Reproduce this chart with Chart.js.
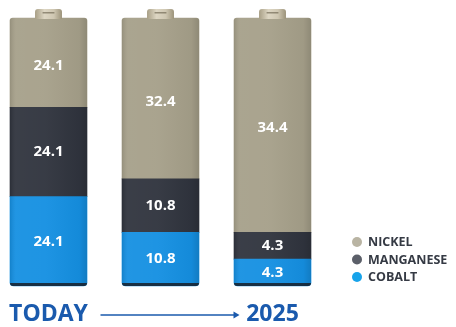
<!DOCTYPE html>
<html>
<head>
<meta charset="utf-8">
<script src="https://cdn.jsdelivr.net/npm/chart.js@4"></script>
<style>
html,body{margin:0;padding:0;background:#fff;}
#wrap{position:relative;width:456px;height:327px;}
</style>
</head>
<body>
<div id="wrap"><canvas id="c" width="456" height="327"></canvas></div>
<script>
// ---- data ----
const categories = ['TODAY', '', '2025'];
const nickel = [24.1, 32.4, 34.4];
const manganese = [24.1, 10.8, 4.3];
const cobalt = [24.1, 10.8, 4.3];
const seriesNames = ['NICKEL', 'MANGANESE', 'COBALT'];

// ---- styles ----
const barColors = {NICKEL: '#a6a08a', MANGANESE: '#30343e', COBALT: '#1590e2'};
const dotColors = {NICKEL: '#b9b4a3', MANGANESE: '#5b5f69', COBALT: '#17a3ea'};
const blue = '#1a5aad';

const totals = categories.map((_, i) => nickel[i] + manganese[i] + cobalt[i]);
const share = arr => arr.map((v, i) => v / totals[i] * 100);

const valuesByName = {NICKEL: nickel, MANGANESE: manganese, COBALT: cobalt};

function ds(name, radius) {
  return {
    label: name,
    data: share(valuesByName[name]),
    raw: valuesByName[name],
    backgroundColor: barColors[name],
    borderWidth: 0,
    borderSkipped: false,
    borderRadius: radius,
    barThickness: 77,
    clip: false
  };
}

const batteryPlugin = {
  id: 'battery',
  afterDatasetsDraw(chart) {
    const ctx = chart.ctx;
    const metas = chart.data.datasets.map((d, i) => chart.getDatasetMeta(i));
    const bottomMeta = metas[0], topMeta = metas[metas.length - 1];
    topMeta.data.forEach((bar, i) => {
      const x = bar.x, w = bar.width, top = bar.y;
      const bottom = bottomMeta.data[i].base;
      const left = x - w / 2;
      // cylindrical shading
      const g = ctx.createLinearGradient(left, 0, left + w, 0);
      g.addColorStop(0, 'rgba(0,0,0,0.10)');
      g.addColorStop(0.08, 'rgba(255,255,255,0.05)');
      g.addColorStop(0.45, 'rgba(255,255,255,0.04)');
      g.addColorStop(0.9, 'rgba(0,0,0,0.04)');
      g.addColorStop(1, 'rgba(0,0,0,0.14)');
      ctx.save();
      ctx.fillStyle = g;
      ctx.beginPath();
      ctx.roundRect(left, top, w, bottom - top, [3, 3, 4, 4]);
      ctx.fill();
      // bottom rim
      ctx.fillStyle = 'rgba(25,30,40,0.85)';
      ctx.beginPath();
      ctx.roundRect(left, bottom - 3, w, 3, [0, 0, 4, 4]);
      ctx.fill();
      // cap
      const cw = w * 0.35, ch = 9;
      const cg = ctx.createLinearGradient(x - cw / 2, 0, x + cw / 2, 0);
      cg.addColorStop(0, '#a89f86');
      cg.addColorStop(0.35, '#ddd6c3');
      cg.addColorStop(0.7, '#cfc7b2');
      cg.addColorStop(1, '#9c937a');
      ctx.fillStyle = cg;
      ctx.beginPath();
      ctx.roundRect(x - cw / 2, top - ch, cw, ch + 1, [3, 3, 0, 0]);
      ctx.fill();
      ctx.fillStyle = 'rgba(90,80,60,0.55)';
      ctx.fillRect(x - cw * 0.22, top - ch + 3, cw * 0.44, 1.5);
      ctx.restore();
    });
    // value labels
    ctx.save();
    ctx.fillStyle = '#ffffff';
    ctx.font = 'bold 15px "Open Sans", sans-serif';
    ctx.textAlign = 'center';
    ctx.textBaseline = 'middle';
    chart.data.datasets.forEach((d, di) => {
      metas[di].data.forEach((bar, i) => {
        const y = (bar.y + bar.base) / 2 + (di === metas.length - 1 ? 3 : 0);
        ctx.fillText(d.raw[i].toFixed(1), bar.x, y);
      });
    });
    ctx.restore();
  },
  afterDraw(chart) {
    const ctx = chart.ctx;
    const xs = chart.scales.x;
    // arrow between first and last category
    const x0 = xs.getPixelForValue(0) + 52;
    const x1 = xs.getPixelForValue(categories.length - 1) - 33;
    const ay = 315;
    ctx.save();
    ctx.strokeStyle = blue;
    ctx.fillStyle = blue;
    ctx.lineWidth = 1.5;
    ctx.beginPath();
    ctx.moveTo(x0, ay);
    ctx.lineTo(x1 - 4, ay);
    ctx.stroke();
    ctx.beginPath();
    ctx.moveTo(x1, ay);
    ctx.lineTo(x1 - 6, ay - 3.5);
    ctx.lineTo(x1 - 6, ay + 3.5);
    ctx.closePath();
    ctx.fill();
    // legend
    const names = chart.data.datasets.map(d => d.label).reverse();
    ctx.font = 'bold 12.5px "Open Sans", sans-serif';
    ctx.textBaseline = 'middle';
    ctx.textAlign = 'left';
    names.forEach((n, i) => {
      const y = 242 + i * 17.5;
      ctx.fillStyle = dotColors[n];
      ctx.beginPath();
      ctx.arc(357, y, 5, 0, Math.PI * 2);
      ctx.fill();
      ctx.fillStyle = '#353a44';
      ctx.fillText(n, 368, y + 0.5);
    });
    ctx.restore();
  }
};

new Chart(document.getElementById('c'), {
  type: 'bar',
  data: {
    labels: categories,
    datasets: [
      ds('COBALT', {topLeft: 0, topRight: 0, bottomLeft: 4, bottomRight: 4}),
      ds('MANGANESE', 0),
      ds('NICKEL', {topLeft: 3, topRight: 3, bottomLeft: 0, bottomRight: 0})
    ]
  },
  options: {
    responsive: false,
    animation: false,
    events: [],
    layout: {padding: {left: 48.5, right: 183.5, top: 18, bottom: 2}},
    plugins: {legend: {display: false}, tooltip: {enabled: false}},
    scales: {
      x: {
        stacked: true,
        offset: false,
        grid: {display: false, drawTicks: false},
        border: {display: false},
        afterFit(scale) { scale.height = 39; scale.paddingLeft = 0; scale.paddingRight = 0; },
        ticks: {
          autoSkip: false, maxRotation: 0, padding: 17,
          color: blue,
          font: {family: '"Open Sans", sans-serif', weight: 'bold', size: 23, lineHeight: 1}
        }
      },
      y: {
        stacked: true,
        display: false,
        min: 0,
        max: 100
      }
    }
  },
  plugins: [batteryPlugin]
});
</script>
</body>
</html>
